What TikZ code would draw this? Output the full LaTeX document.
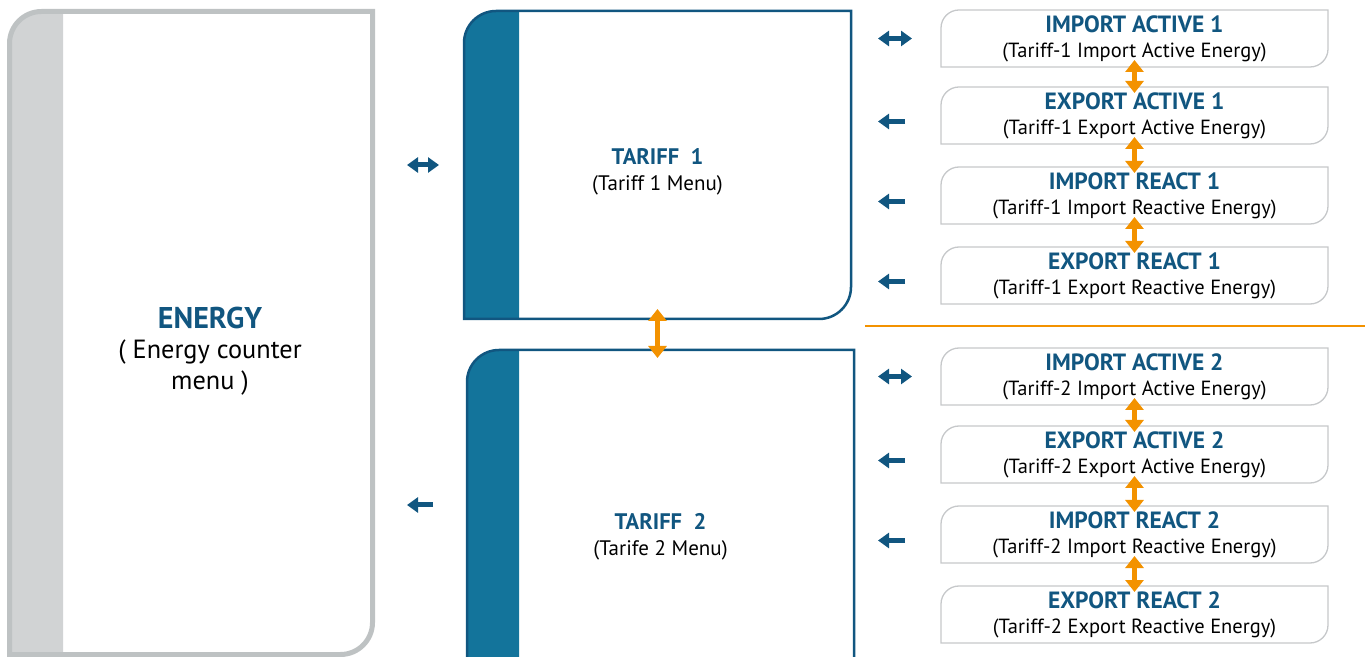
\documentclass[tikz,border=0pt]{standalone}
\usepackage{fontspec}
\setmainfont{PT Sans}
\usetikzlibrary{arrows.meta,positioning}

\definecolor{navy}{RGB}{17,86,128}
\definecolor{stripeblue}{RGB}{19,116,155}
\definecolor{panelgrey}{RGB}{209,211,212}
\definecolor{edgegrey}{RGB}{190,194,195}
\definecolor{cardgrey}{RGB}{198,200,202}
\definecolor{amber}{RGB}{243,146,0}

% outline with rounded top left and bottom right corner
\newcommand{\drawcard}[3]{%
  \draw[#1] (#2.south west) -- ([yshift=-#3]#2.north west)
    arc[start angle=180,end angle=90,radius=#3] -- (#2.north east)
    -- ([yshift=#3]#2.south east)
    arc[start angle=0,end angle=-90,radius=#3] -- cycle;}
\newcommand{\fillstripe}[4]{%
  \fill[#1] (#2.south west) -- ([yshift=-#3]#2.north west)
    arc[start angle=180,end angle=90,radius=#3] -- ([xshift=#4]#2.north west)
    -- ([xshift=#4]#2.south west) -- cycle;}
\newcommand{\twoline}[2]{{\color{navy}\bfseries\fontsize{23.5}{25}\selectfont #1}\\#2}

\begin{document}
\begin{tikzpicture}[x=1pt,y=1pt,
  box/.style={inner sep=0pt,outer sep=0pt},
  bigbox/.style={box,minimum width=387pt},
  card/.style={box,minimum width=387pt,minimum height=57pt,align=center,
    font=\fontsize{20.5}{25}\selectfont},
  menutext/.style={align=center,font=\fontsize{21}{26}\selectfont},
  bluearrow/.style={navy,line width=5pt,-{Triangle[width=15pt,length=11pt]}},
  bluedouble/.style={navy,line width=5pt,{Triangle[width=15pt,length=11pt]}-{Triangle[width=15pt,length=11pt]}},
  orangearrow/.style={amber,line width=5pt,{Triangle[width=18pt,length=12pt]}-{Triangle[width=18pt,length=12pt]}}]

\useasboundingbox (0,0) rectangle (1370,656);
\clip (0,0) rectangle (1370,656);

% main panels
\node[box,minimum width=363pt,minimum height=643pt] (energy) at (191,323) {};
\node[bigbox,minimum height=308pt] (t1box) at (657.5,491) {};
\node[bigbox,minimum height=360pt] (t2box) at (660.5,126) {};

\fillstripe{panelgrey}{energy}{32pt}{53.5pt}
\drawcard{edgegrey,line width=5pt}{energy}{32pt}
\fillstripe{stripeblue}{t1box}{32pt}{55pt}
\drawcard{navy,line width=2.5pt}{t1box}{32pt}
\fillstripe{stripeblue}{t2box}{32pt}{52pt}
\drawcard{navy,line width=2.5pt}{t2box}{32pt}

\node[align=center,font=\fontsize{26.3}{30.5}\selectfont] (energytext) at ([shift={(19pt,-18pt)}]energy.center)
  {{\color{navy}\bfseries\fontsize{30}{30.5}\selectfont ENERGY}\\( Energy counter\\menu )};
\node[menutext] (t1text) at ([yshift=-7pt]t1box.center)
  {{\color{navy}\bfseries\fontsize{22.5}{26}\selectfont TARIFF~~1}\\(Tariff 1 Menu)};
\node[menutext] (t2text) at ([yshift=-7pt]t2box.center)
  {{\color{navy}\bfseries\fontsize{22.5}{26}\selectfont TARIFF~~2}\\(Tarife 2 Menu)};

% tariff 1 cards
\node[card] (ia1) at (1134.5,617.5) {\twoline{IMPORT ACTIVE 1}{(Tariff-1 Import Active Energy)}};
\node[card,below=20pt of ia1] (ea1) {\twoline{EXPORT ACTIVE 1}{(Tariff-1 Export Active Energy)}};
\node[card,below=23pt of ea1] (ir1) {\twoline{IMPORT REACT 1}{(Tariff-1 Import Reactive Energy)}};
\node[card,below=23pt of ir1] (er1) {\twoline{EXPORT REACT 1}{(Tariff-1 Export Reactive Energy)}};

% tariff 2 cards
\node[card] (ia2) at (1134.5,279.5) {\twoline{IMPORT ACTIVE 2}{(Tariff-2 Import Active Energy)}};
\node[card,below=21pt of ia2] (ea2) {\twoline{EXPORT ACTIVE 2}{(Tariff-2 Export Active Energy)}};
\node[card,below=23pt of ea2] (ir2) {\twoline{IMPORT REACT 2}{(Tariff-2 Import Reactive Energy)}};
\node[card,below=23pt of ir2] (er2) {\twoline{EXPORT REACT 2}{(Tariff-2 Export Reactive Energy)}};

\foreach \c in {ia1,ea1,ir1,er1,ia2,ea2,ir2,er2}
  {\drawcard{cardgrey,line width=1.3pt}{\c}{18pt}}

% divider
\draw[amber,line width=2pt] ([shift={(-76pt,-22pt)}]er1.south west) -- ([shift={(37pt,-22pt)}]er1.south east);

% up/down arrows
\draw[orangearrow,shorten <=-10pt,shorten >=-8pt] (t1box.south) -- (t1box.south |- t2box.north);
\foreach \a/\b in {ia1/ea1,ea1/ir1,ir1/er1,ia2/ea2,ea2/ir2,ir2/er2}
  {\draw[orangearrow,shorten <=-7pt,shorten >=-6pt] (\a.south) -- (\b.north);}

% left/right arrows
\draw[bluedouble] ([xshift=-57pt]t1box.west) -- ([xshift=-25pt]t1box.west);
\draw[bluearrow] ([shift={(-34pt,25pt)}]t2box.west) -- ([shift={(-60pt,25pt)}]t2box.west);
\draw[bluedouble] ([xshift=-63pt]ia1.west) -- ([xshift=-29pt]ia1.west);
\draw[bluedouble] ([xshift=-63pt]ia2.west) -- ([xshift=-29pt]ia2.west);
\foreach \c in {ea1,ir1,er1,ea2,ir2}
  {\draw[bluearrow] ([shift={(-36pt,-6pt)}]\c.west) -- ([shift={(-63pt,-6pt)}]\c.west);}
\end{tikzpicture}
\end{document}
